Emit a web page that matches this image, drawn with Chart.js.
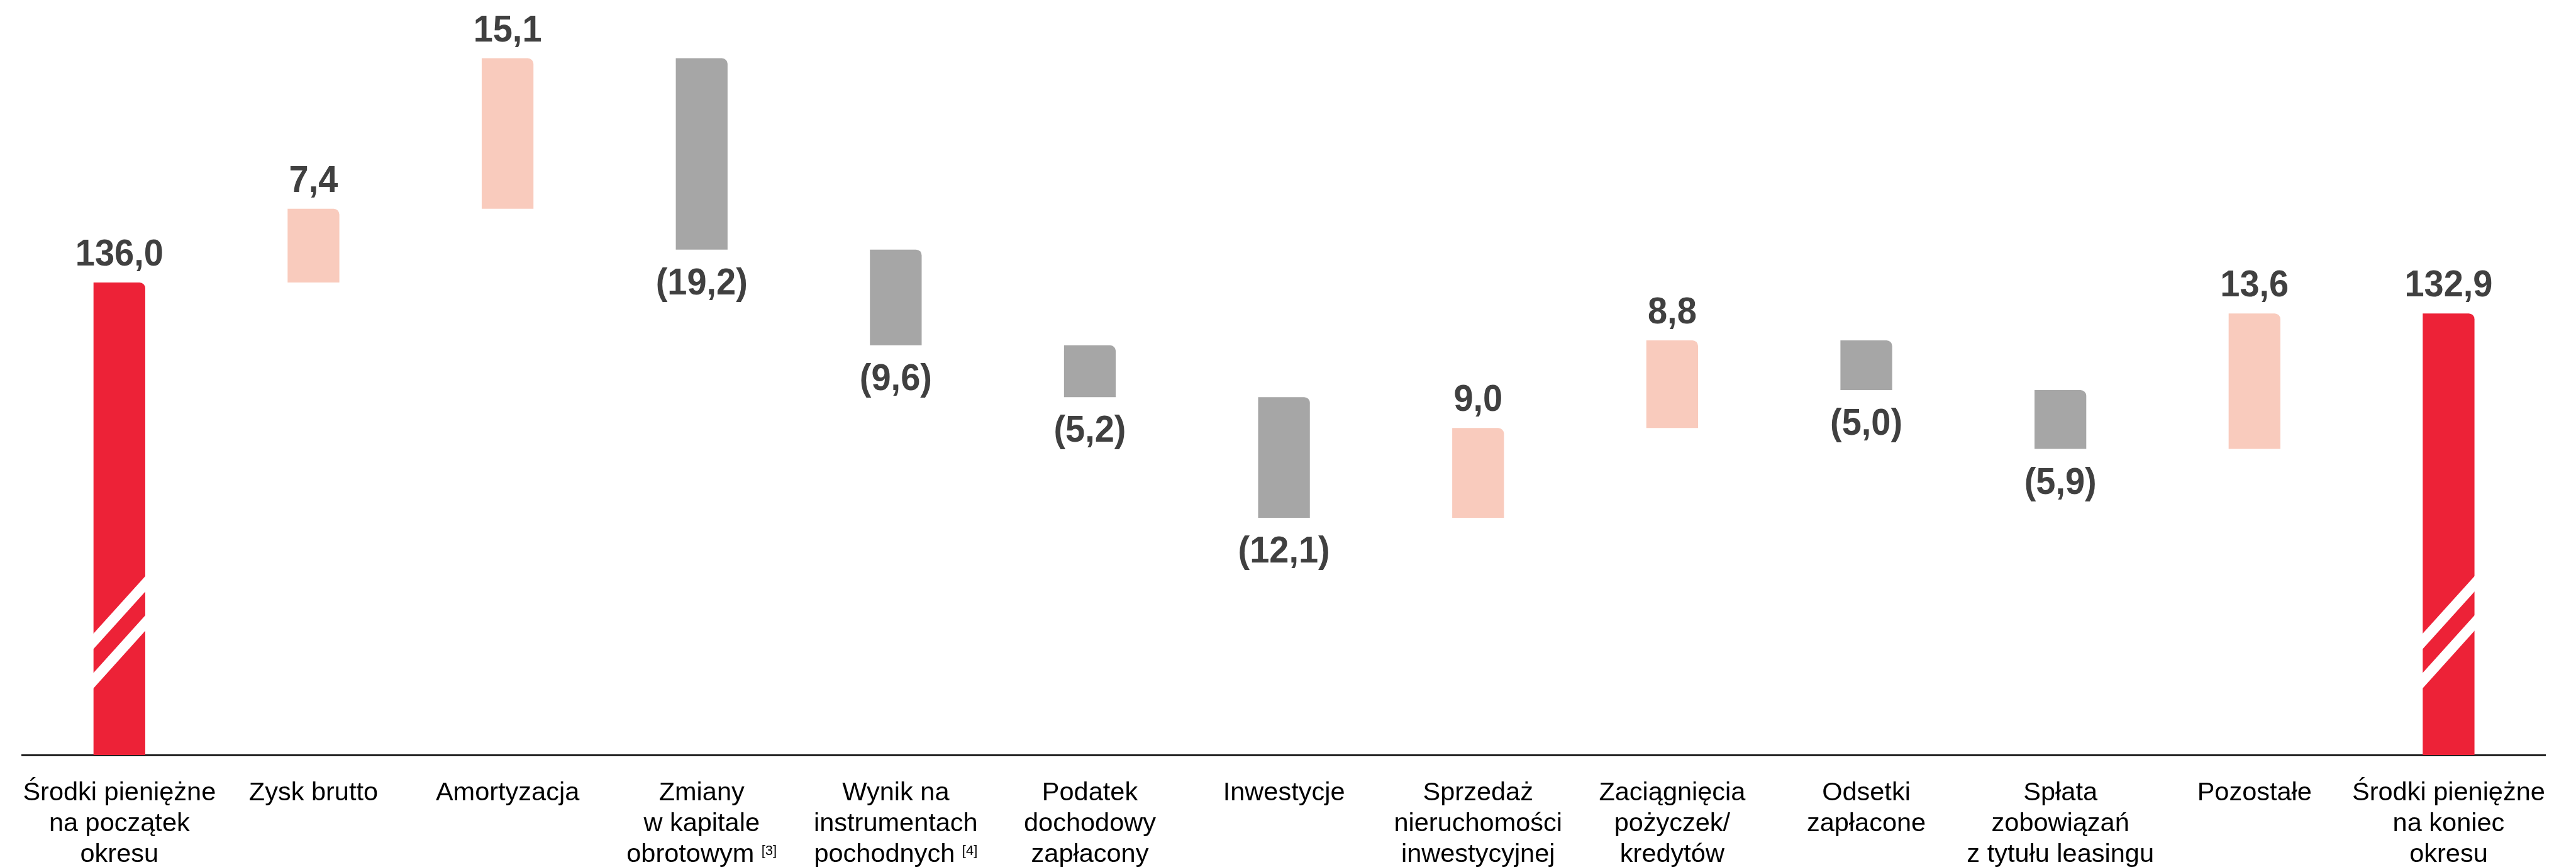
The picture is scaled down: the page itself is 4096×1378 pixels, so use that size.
<!DOCTYPE html>
<html lang="pl">
<head>
<meta charset="utf-8">
<title>Przepływy pieniężne</title>
<script src="https://cdn.jsdelivr.net/npm/chart.js@4.4.1/dist/chart.umd.min.js"></script>
<style>
  html, body { margin: 0; padding: 0; background: #fff; overflow: hidden; }
  #box { position: relative; width: 4096px; height: 1378px; }
</style>
</head>
<body>
<div id="box"><canvas id="wykres"></canvas></div>
<script>
"use strict";

// etykiety kategorii (kazda linia osobno)
const kategorie = [
  ["Środki pieniężne", "na początek", "okresu"],
  ["Zysk brutto"],
  ["Amortyzacja"],
  ["Zmiany", "w kapitale", "obrotowym"],
  ["Wynik na", "instrumentach", "pochodnych"],
  ["Podatek", "dochodowy", "zapłacony"],
  ["Inwestycje"],
  ["Sprzedaż", "nieruchomości", "inwestycyjnej"],
  ["Zaciągnięcia", "pożyczek/", "kredytów"],
  ["Odsetki", "zapłacone"],
  ["Spłata", "zobowiązań", "z tytułu leasingu"],
  ["Pozostałe"],
  ["Środki pieniężne", "na koniec", "okresu"]
];
const przypisy = ["", "", "", "[3]", "[4]", "", "", "", "", "", "", "", ""];

const stanPoczatkowy = 136.0;
const zmiany = [7.4, 15.1, -19.2, -9.6, -5.2, -12.1, 9.0, 8.8, -5.0, -5.9, 13.6];
const stanKoncowy = 132.9;

// zakres osi (os przerwana, nie zaczyna sie od zera)
const osMin = 88.6;
const osMax = 164.34;

const kolorSuma = "#ED2237";
const kolorPlus = "#F9CBBD";
const kolorMinus = "#A6A6A6";
const kolorTekstu = "#404040";
const skala = 0.875;

// budowa danych kaskadowych
let dane = [stanPoczatkowy];
let wartosci = [stanPoczatkowy];
let kolory = [kolorSuma];
let suma = stanPoczatkowy;
zmiany.forEach(z => {
  let nowa = Math.round((suma + z) * 10) / 10;
  dane.push([Math.min(suma, nowa), Math.max(suma, nowa)]);
  wartosci.push(z);
  kolory.push(z >= 0 ? kolorPlus : kolorMinus);
  suma = nowa;
});
dane.push(stanKoncowy);
wartosci.push(stanKoncowy);
kolory.push(kolorSuma);

function formatuj(v) {
  let s = Math.abs(v).toFixed(1).replace(".", ",");
  return v < 0 ? "(" + s + ")" : s;
}

// wartosci nad / pod slupkami
const etykietyWartosci = {
  id: "etykietyWartosci",
  afterDatasetsDraw(chart) {
    const ctx = chart.ctx;
    const meta = chart.getDatasetMeta(0);
    ctx.save();
    ctx.fillStyle = kolorTekstu;
    ctx.font = "bold " + (68 * skala) + "px 'Liberation Sans', Arial, sans-serif";
    ctx.textAlign = "center";
    ctx.textBaseline = "alphabetic";
    meta.data.forEach((bar, i) => {
      let v = wartosci[i];
      let y;
      if (v < 0) {
        y = Math.max(bar.y, bar.base) + 71;
      } else {
        y = Math.min(bar.y, bar.base) - 27;
      }
      ctx.save();
      ctx.translate(bar.x, y);
      ctx.scale(0.94, 1);
      ctx.fillText(formatuj(v), 0, 0);
      ctx.restore();
    });
    ctx.restore();
  }
};

// przerwanie slupkow sumy (dwa biale skosy)
const przerwanie = {
  id: "przerwanie",
  afterDatasetsDraw(chart) {
    const ctx = chart.ctx;
    const meta = chart.getDatasetMeta(0);
    const dol = chart.chartArea.bottom;
    const skosy = [[191.9, 285.2], [129.5, 223.1]];
    const grubosc = 24.5;
    [0, meta.data.length - 1].forEach(i => {
      const bar = meta.data[i];
      const x0 = bar.x - bar.width / 2 - 1;
      const x1 = bar.x + bar.width / 2 + 1;
      ctx.save();
      ctx.fillStyle = "#ffffff";
      skosy.forEach(s => {
        ctx.beginPath();
        ctx.moveTo(x0, dol - s[0]);
        ctx.lineTo(x1, dol - s[1]);
        ctx.lineTo(x1, dol - s[1] + grubosc);
        ctx.lineTo(x0, dol - s[0] + grubosc);
        ctx.closePath();
        ctx.fill();
      });
      ctx.restore();
    });
  }
};

// podpisy kategorii pod osia
const podpisy = {
  id: "podpisy",
  afterDraw(chart) {
    const ctx = chart.ctx;
    const x = chart.scales.x;
    const dol = chart.chartArea.bottom;
    const fontGlowny = (41.5) + "px 'Liberation Sans', Arial, sans-serif";
    const fontPrzypis = (22) + "px 'Liberation Sans', Arial, sans-serif";
    ctx.save();
    ctx.fillStyle = "#000000";
    ctx.textBaseline = "alphabetic";
    kategorie.forEach((linie, i) => {
      const cx = x.getPixelForValue(i);
      linie.forEach((tekst, j) => {
        const y = dol + 72.3 + j * 48.6;
        ctx.font = fontGlowny;
        if (j === linie.length - 1 && przypisy[i]) {
          const wT = ctx.measureText(tekst).width;
          const odstep = ctx.measureText(" ").width;
          ctx.font = fontPrzypis;
          const wP = ctx.measureText(przypisy[i]).width;
          const start = cx - (wT + odstep + wP) / 2;
          ctx.textAlign = "left";
          ctx.font = fontGlowny;
          ctx.fillText(tekst, start, y);
          ctx.font = fontPrzypis;
          ctx.fillText(przypisy[i], start + wT + odstep, y - 11);
        } else {
          ctx.textAlign = "center";
          ctx.fillText(tekst, cx, y);
        }
      });
    });
    ctx.restore();
  }
};

const ctx = document.getElementById("wykres");
let myChart = new Chart(ctx, {
  type: "bar",
  data: {
    labels: kategorie.map(k => k.join(" ")),
    datasets: [{
      data: dane,
      backgroundColor: kolory,
      borderWidth: 0,
      borderRadius: { topLeft: 0, topRight: 9, bottomLeft: 0, bottomRight: 0 },
      borderSkipped: "start",
      barPercentage: 0.2666,
      categoryPercentage: 1
    }]
  },
  options: {
    responsive: true,
    maintainAspectRatio: false,
    animation: false,
    layout: {
      padding: { left: 35.5, right: 48.25, top: 0, bottom: 178 }
    },
    plugins: {
      legend: { display: false },
      tooltip: { enabled: false }
    },
    scales: {
      x: {
        offset: true,
        grid: { display: false, drawTicks: false },
        border: { display: true, color: "#000000", width: 2.6 },
        ticks: { display: false }
      },
      y: {
        display: false,
        min: osMin,
        max: osMax
      }
    }
  },
  plugins: [etykietyWartosci, przerwanie, podpisy]
});
</script>
</body>
</html>
